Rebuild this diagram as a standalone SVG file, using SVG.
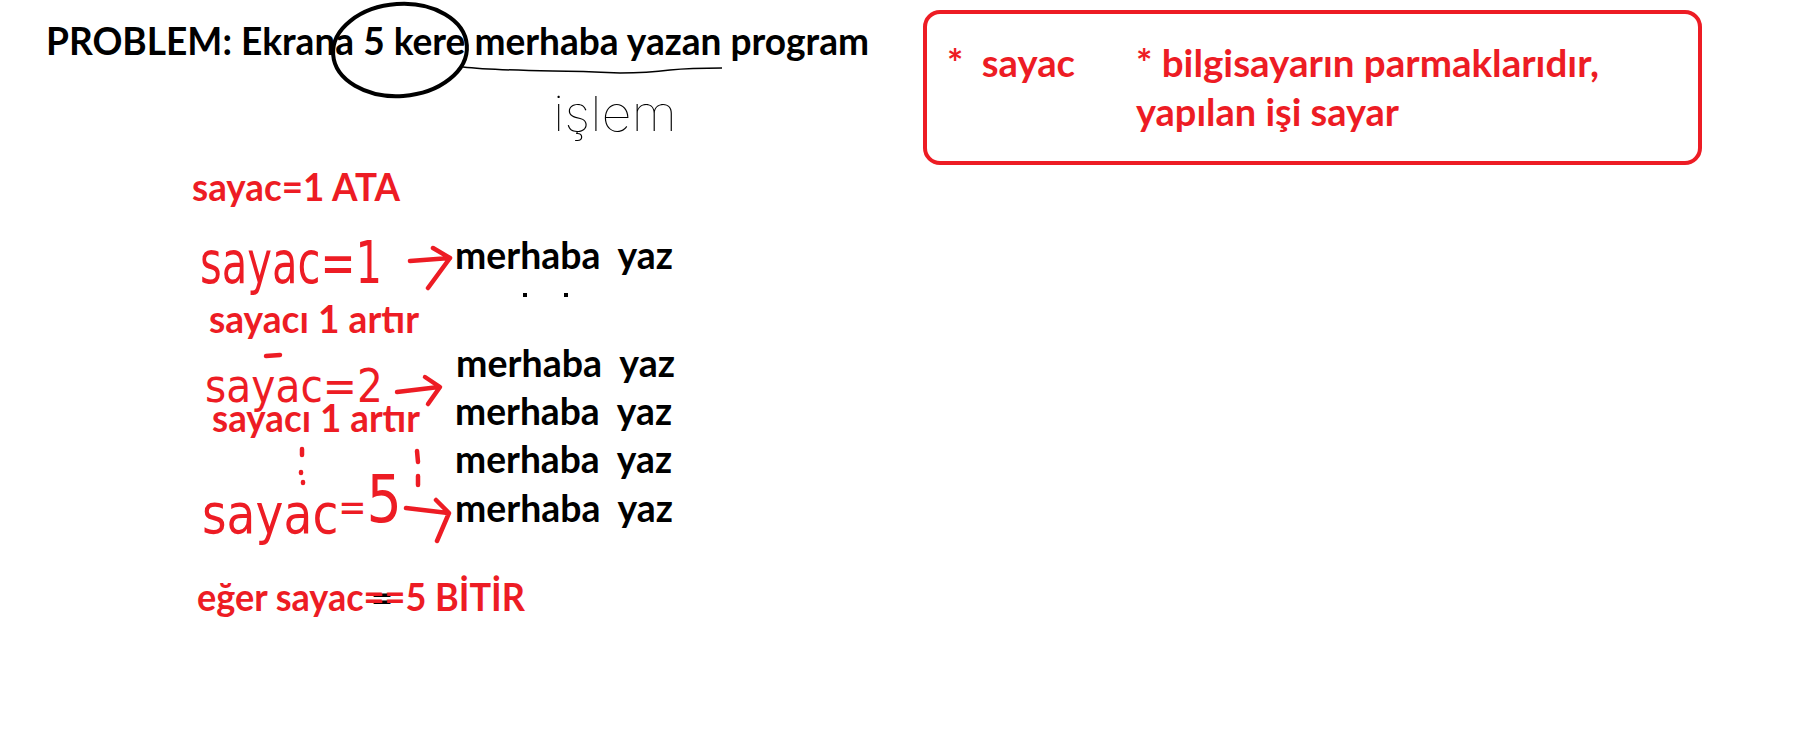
<svg xmlns="http://www.w3.org/2000/svg" width="1794" height="737" viewBox="0 0 1794 737">
<style>
.b{font-family:Lato,"Open Sans","Liberation Sans",sans-serif;font-weight:700;font-size:38px}
.k{fill:#000}
.r{fill:#ED1C24}
.hw{font-family:"DejaVu Sans","Liberation Sans",sans-serif;font-weight:400;fill:#ED1C24}
.thin{font-family:Inter,"Open Sans","DejaVu Sans",sans-serif;font-weight:100;fill:#000}
.rs{fill:none;stroke:#ED1C24;stroke-width:4.5;stroke-linecap:round;stroke-linejoin:round}
</style>
<rect width="1794" height="737" fill="#fff"/>

<g id="title">
<text class="b k" x="46" y="55" textLength="823" lengthAdjust="spacingAndGlyphs">PROBLEM: Ekrana 5 kere merhaba yazan program</text>
<ellipse cx="400" cy="50" rx="67" ry="46" fill="none" stroke="#000" stroke-width="4" transform="rotate(-4 400 50)"/>
<path d="M463,67 C480,69 495,70 553,71 C580,71 600,72 620,73 C640,73 655,72 670,70 C690,68 705,68 722,68" fill="none" stroke="#000" stroke-width="1.5"/>
<text class="thin" x="553" y="131" font-size="48" textLength="124" lengthAdjust="spacingAndGlyphs">işlem</text>
</g>

<g id="note">
<rect x="925" y="12" width="775" height="151" rx="15" ry="15" fill="none" stroke="#ED1C24" stroke-width="4"/>
<text class="b r" x="947" y="77" xml:space="preserve" textLength="128" lengthAdjust="spacingAndGlyphs">*  sayac</text>
<text class="b r" x="1136" y="77" textLength="463" lengthAdjust="spacingAndGlyphs">* bilgisayarın parmaklarıdır,</text>
<text class="b r" x="1136" y="126" textLength="263" lengthAdjust="spacingAndGlyphs">yapılan işi sayar</text>
</g>

<g id="init">
<text class="b r" x="192" y="201" textLength="208" lengthAdjust="spacingAndGlyphs">sayac=1 ATA</text>
</g>

<g id="step1">
<text class="hw" x="200" y="283" font-size="58" textLength="182" lengthAdjust="spacingAndGlyphs">sayac=1</text>
<text class="b k" x="455" y="269" xml:space="preserve" textLength="218" lengthAdjust="spacingAndGlyphs">merhaba  yaz</text>
<rect x="523" y="293" width="4" height="4" fill="#000"/>
<rect x="564" y="293" width="4" height="4" fill="#000"/>
</g>

<g id="inc1">
<text class="b r" x="209" y="333" textLength="210" lengthAdjust="spacingAndGlyphs">sayacı 1 artır</text>
</g>

<g id="step2">
<text class="hw" x="205" y="402" font-size="46" textLength="178" lengthAdjust="spacingAndGlyphs">sayac=2</text>
<text class="b k" x="456" y="377" xml:space="preserve" textLength="219" lengthAdjust="spacingAndGlyphs">merhaba  yaz</text>
</g>

<g id="inc2">
<text class="b r" x="212" y="432" textLength="208" lengthAdjust="spacingAndGlyphs">sayacı 1 artır</text>
</g>

<g id="step3">
<text class="b k" x="455" y="425" xml:space="preserve" textLength="217" lengthAdjust="spacingAndGlyphs">merhaba  yaz</text>
</g>

<g id="step4">
<text class="b k" x="455" y="473" xml:space="preserve" textLength="217" lengthAdjust="spacingAndGlyphs">merhaba  yaz</text>
</g>

<g id="step5">
<text class="hw" x="202" y="533" font-size="56" textLength="200" lengthAdjust="spacingAndGlyphs">sayac<tspan font-size="40" dy="-12">=</tspan><tspan font-size="66" dy="1">5</tspan></text>
<text class="b k" x="455" y="522" xml:space="preserve" textLength="218" lengthAdjust="spacingAndGlyphs">merhaba  yaz</text>
</g>

<g id="end">
<text class="b k" x="371" y="612">=</text>
<text class="b r" x="197" y="611" textLength="328" lengthAdjust="spacingAndGlyphs">eğer sayac==5 BİTİR</text>
</g>

<g id="connectors">
<path class="rs" d="M410,261 L450,258 M433,248 L450,258 L428,288"/>
<path class="rs" d="M397,392 L439,387 M425,377 L440,387 L428,404"/>
<path class="rs" d="M406,508 L448,513 M436,500 L449,513 L437,541"/>
<path class="rs" d="M266,356 L280,355"/>
<path class="rs" d="M302,449 L302,455 M301,472 L301,473 M303,482 L303,483"/>
<path class="rs" d="M417,451 L418,462 M418,476 L418,485"/>
</g>
</svg>
